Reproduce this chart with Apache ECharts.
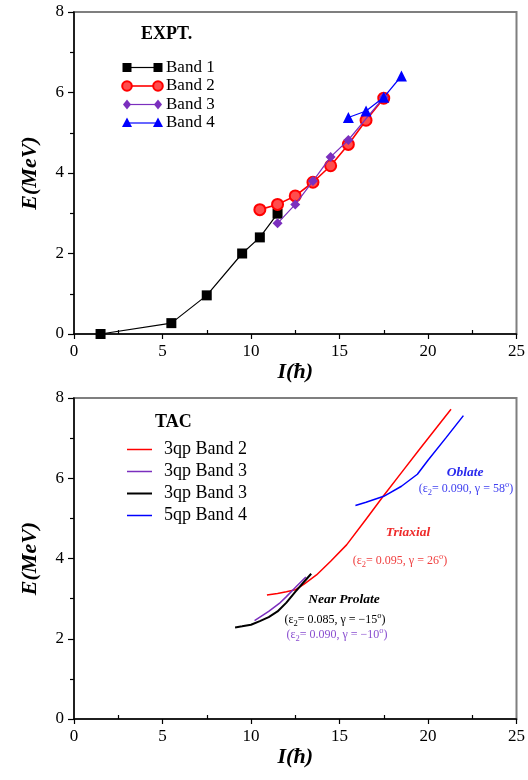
<!DOCTYPE html>
<html><head><meta charset="utf-8">
<script src="https://cdn.jsdelivr.net/npm/echarts@6/dist/echarts.min.js"></script>
<style>html,body{margin:0;padding:0;background:#fff}#c{width:528px;height:780px}</style>
</head><body><div id="c"></div>
<script>
// ---- data ----
const xMin = 0, xMax = 25, xStep = 5;
const yMin = 0, yMax = 8, yStep = 2;
const xMinorTicks = [2.5, 7.5, 12.5, 17.5, 22.5];

// EXPT. (top panel)
const band1I = [1.5, 5.5, 7.5, 9.5, 10.5, 11.5];
const band1E = [0, 0.27, 0.96, 2.0, 2.4, 2.99];
const band2I = [10.5, 11.5, 12.5, 13.5, 14.5, 15.5, 16.5, 17.5];
const band2E = [3.09, 3.22, 3.43, 3.77, 4.18, 4.71, 5.31, 5.86];
const band3I = [11.5, 12.5, 13.5, 14.5, 15.5, 17.5];
const band3E = [2.75, 3.22, 3.80, 4.40, 4.82, 5.88];
const band4I = [15.5, 16.5, 17.5, 18.5];
const band4E = [5.38, 5.54, 5.88, 6.41];

// TAC (bottom panel)
const tacB2I = [10.9, 11.5, 12.0, 12.5, 13.0, 13.7, 14.5, 15.4, 16.5, 17.5, 18.5, 19.5, 20.5, 21.3];
const tacB2E = [3.09, 3.13, 3.17, 3.22, 3.36, 3.59, 3.93, 4.34, 4.98, 5.57, 6.14, 6.71, 7.27, 7.72];
const tacB3pI = [10.2, 11.0, 11.6, 12.0, 12.6, 13.1];
const tacB3pE = [2.45, 2.68, 2.88, 3.05, 3.32, 3.54];
const tacB3kI = [9.1, 9.5, 10.0, 10.5, 11.0, 11.5, 12.0, 12.5, 13.0, 13.4];
const tacB3kE = [2.28, 2.31, 2.35, 2.44, 2.54, 2.68, 2.90, 3.17, 3.42, 3.62];
const tacB4I = [15.9, 16.5, 17.5, 18.5, 19.4, 20.0, 21.0, 22.0];
const tacB4E = [5.32, 5.40, 5.55, 5.80, 6.10, 6.45, 7.00, 7.56];

const exptNames = ['Band 1', 'Band 2', 'Band 3', 'Band 4'];
const tacNames = ['3qp Band 2', '3qp Band 3', '3qp Band 3', '5qp Band 4'];

// ---- build ----
const zip = (a, b) => a.map((v, i) => [v, b[i]]);
const FONT = 'Liberation Serif';
const C = { black: '#000000', red: '#ff0000', purple: '#7b2fbe', blue: '#0000ff' };

const chart = echarts.init(document.getElementById('c'), null, { renderer: 'canvas' });

const grids = [
  { left: 74, right: 9, top: 12, height: 322, show: true, borderColor: '#7f7f7f', borderWidth: 2 },
  { left: 74, right: 9, top: 398, height: 321, show: true, borderColor: '#7f7f7f', borderWidth: 2 }
];

function mainX(gi) {
  return {
    type: 'value', gridIndex: gi, min: xMin, max: xMax, interval: xStep,
    name: 'I(ħ)', nameLocation: 'middle', nameGap: 25,
    nameTextStyle: { fontFamily: FONT, fontSize: 22, fontWeight: 'bold', fontStyle: 'italic', color: '#000' },
    axisLine: { show: true, onZero: false, lineStyle: { color: '#000', width: 1.5 } },
    axisTick: { show: true, inside: false, length: 5, lineStyle: { color: '#000', width: 1.2 } },
    axisLabel: { fontFamily: FONT, fontSize: 17, color: '#000', margin: 9 },
    splitLine: { show: false }
  };
}
function minorX(gi) {
  return {
    type: 'value', gridIndex: gi, min: xMin, max: xMax, interval: xStep, position: 'bottom',
    axisLine: { show: false, onZero: false },
    axisTick: { show: true, inside: true, length: 4, customValues: xMinorTicks, lineStyle: { color: '#000', width: 1.2 } },
    axisLabel: { show: false }, splitLine: { show: false }
  };
}
function mainY(gi) {
  return {
    type: 'value', gridIndex: gi, min: yMin, max: yMax, interval: yStep,
    name: 'E(MeV)', nameLocation: 'middle', nameGap: 33, nameRotate: 90,
    nameTextStyle: { fontFamily: FONT, fontSize: 22, fontWeight: 'bold', fontStyle: 'italic', color: '#000' },
    axisLine: { show: true, onZero: false, lineStyle: { color: '#000', width: 1.5 } },
    axisTick: { show: true, inside: false, length: 6, lineStyle: { color: '#000', width: 1.2 } },
    minorTick: { show: true, splitNumber: 2, length: 4, lineStyle: { color: '#000', width: 1.2 } },
    axisLabel: { fontFamily: FONT, fontSize: 17, color: '#000', margin: 10 },
    splitLine: { show: false }, minorSplitLine: { show: false }
  };
}

const series = [
  { name: exptNames[0], type: 'line', xAxisIndex: 0, yAxisIndex: 0, data: zip(band1I, band1E),
    symbol: 'rect', symbolSize: 10, itemStyle: { color: C.black }, lineStyle: { color: C.black, width: 1.2 }, z: 3 },
  { name: exptNames[1], type: 'line', xAxisIndex: 0, yAxisIndex: 0, data: zip(band2I, band2E),
    symbol: 'circle', symbolSize: 11, itemStyle: { color: '#ff4d4d', borderColor: C.red, borderWidth: 2 }, lineStyle: { color: C.red, width: 1.6 }, z: 3 },
  { name: exptNames[2], type: 'line', xAxisIndex: 0, yAxisIndex: 0, data: zip(band3I, band3E),
    symbol: 'diamond', symbolSize: 10, itemStyle: { color: C.purple }, lineStyle: { color: C.purple, width: 1.2 }, z: 4 },
  { name: exptNames[3], type: 'line', xAxisIndex: 0, yAxisIndex: 0, data: zip(band4I, band4E),
    symbol: 'triangle', symbolSize: 11, itemStyle: { color: C.blue }, lineStyle: { color: C.blue, width: 1.2 }, z: 4 },

  { name: tacNames[0], type: 'line', xAxisIndex: 2, yAxisIndex: 1, data: zip(tacB2I, tacB2E),
    showSymbol: false, symbol: 'none', lineStyle: { color: C.red, width: 1.5 } },
  { name: tacNames[1], type: 'line', xAxisIndex: 2, yAxisIndex: 1, data: zip(tacB3pI, tacB3pE),
    showSymbol: false, symbol: 'none', lineStyle: { color: C.purple, width: 1.5 } },
  { name: tacNames[2] + ' ', type: 'line', xAxisIndex: 2, yAxisIndex: 1, data: zip(tacB3kI, tacB3kE),
    showSymbol: false, symbol: 'none', lineStyle: { color: C.black, width: 2 } },
  { name: tacNames[3], type: 'line', xAxisIndex: 2, yAxisIndex: 1, data: zip(tacB4I, tacB4E),
    showSymbol: false, symbol: 'none', lineStyle: { color: C.blue, width: 1.5 } }
];

// ---- legends & annotations (graphic) ----
const g = [];
function txt(x, y, text, opt) {
  g.push({ type: 'text', x: x, y: y, style: Object.assign({
    text: text, fontFamily: FONT, fontSize: 17, fill: '#000', align: 'left', verticalAlign: 'middle' }, opt || {}) });
}
// EXPT legend
txt(141, 34, 'EXPT.', { fontWeight: 'bold', fontSize: 18 });
const exptColors = [C.black, C.red, C.purple, C.blue];
const exptSym = ['rect', 'circle', 'diamond', 'triangle'];
exptNames.forEach((n, i) => {
  const y = 67.5 + i * 18.5, x1 = 127, x2 = 158, col = exptColors[i];
  g.push({ type: 'line', shape: { x1: x1, y1: y, x2: x2, y2: y }, style: { stroke: col, lineWidth: i === 1 ? 1.6 : 1.2 } });
  [x1, x2].forEach(x => {
    if (exptSym[i] === 'rect') g.push({ type: 'rect', shape: { x: x - 4.5, y: y - 4.5, width: 9, height: 9 }, style: { fill: col } });
    if (exptSym[i] === 'circle') g.push({ type: 'circle', shape: { cx: x, cy: y, r: 4.8 }, style: { fill: '#ff4d4d', stroke: col, lineWidth: 2 } });
    if (exptSym[i] === 'diamond') g.push({ type: 'polygon', shape: { points: [[x, y - 5], [x + 4, y], [x, y + 5], [x - 4, y]] }, style: { fill: col } });
    if (exptSym[i] === 'triangle') g.push({ type: 'polygon', shape: { points: [[x, y - 5.5], [x + 5, y + 4], [x - 5, y + 4]] }, style: { fill: col } });
  });
  txt(166, y, n);
});
// TAC legend
txt(155, 422, 'TAC', { fontWeight: 'bold', fontSize: 18 });
const tacColors = [C.red, C.purple, C.black, C.blue];
tacNames.forEach((n, i) => {
  const y = 449.5 + i * 22;
  g.push({ type: 'line', shape: { x1: 127, y1: y, x2: 152, y2: y }, style: { stroke: tacColors[i], lineWidth: i === 2 ? 2 : 1.5 } });
  txt(164, y, n, { fontSize: 18 });
});
// annotations
function param(x, y, col, eps, gam) {
  g.push({ type: 'text', x: x, y: y, style: {
    text: '(ε{sub|2}= ' + eps + ', γ = ' + gam + '{sup|o})',
    fontFamily: FONT, fontSize: 12, fill: col, align: 'center', verticalAlign: 'middle',
    rich: {
      sub: { fontFamily: FONT, fontSize: 8.5, fill: col, verticalAlign: 'bottom', lineHeight: 17 },
      sup: { fontFamily: FONT, fontSize: 8.5, fill: col, verticalAlign: 'top', lineHeight: 17 }
    } } });
}
const lab = { fontWeight: 'bold', fontStyle: 'italic', fontSize: 13.5, align: 'center' };
txt(465, 473, 'Oblate', Object.assign({}, lab, { fill: '#2a2aee' }));
param(466, 489, '#4040f0', '0.090', '58');
txt(408, 533, 'Triaxial', Object.assign({}, lab, { fill: '#ee2a2a' }));
param(400, 561, '#f04040', '0.095', '26');
txt(344, 600, 'Near Prolate', Object.assign({}, lab, { fill: '#000' }));
param(335, 620, '#000000', '0.085', '−15');
param(337, 635, '#8a4fd0', '0.090', '−10');

chart.setOption({
  animation: false,
  backgroundColor: '#fff',
  grid: grids,
  xAxis: [mainX(0), minorX(0), mainX(1), minorX(1)],
  yAxis: [mainY(0), mainY(1)],
  series: series,
  graphic: g
});
</script></body></html>
